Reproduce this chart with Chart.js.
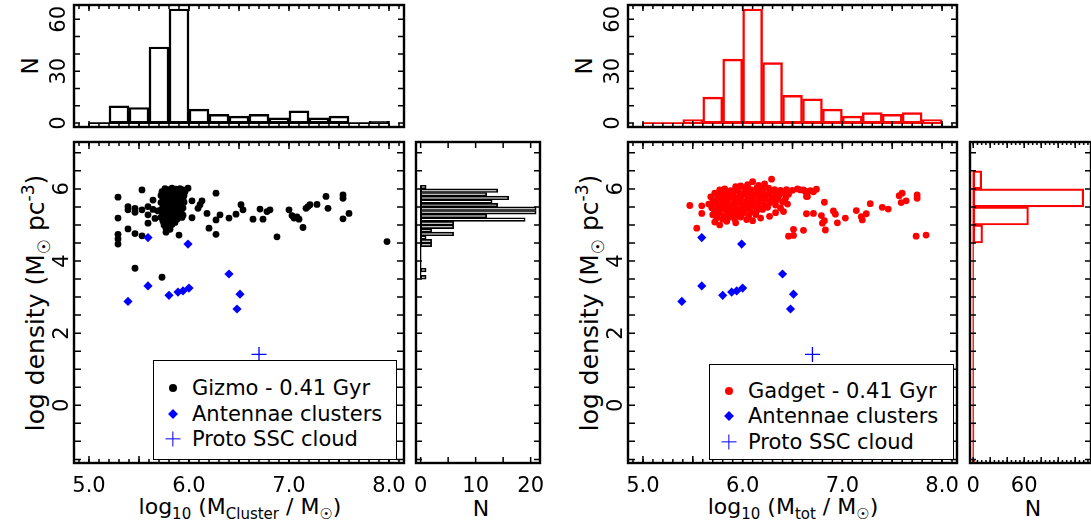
<!DOCTYPE html>
<html>
<head>
<meta charset="utf-8">
<title>Cluster density vs mass</title>
<script src="https://cdn.jsdelivr.net/npm/chart.js@4.4.1/dist/chart.umd.min.js"></script>
<style>
  body { margin: 0; width: 1091px; height: 525px; position: relative; overflow: hidden; background: #fff; font-family: "DejaVu Sans", sans-serif; color: #000; }
  canvas { position: absolute; left: 0; top: 0; }
  .lbl { position: absolute; white-space: nowrap; transform: translate(-50%, -50%); font-size: 22px; }
  .rot { transform: translate(-50%, -50%) rotate(-90deg); }
  .lbl sub, .lbl sup { font-size: 15px; line-height: 0; }
  .big sub, .big sup { font-size: 17px; }
  .legend { position: absolute; border: 1.5px solid #000; background: #fff; box-sizing: border-box; font-size: 21px; }
  .legend .row { position: absolute; left: 38px; transform: translateY(-50%); white-space: nowrap; }
  .mk { position: absolute; transform: translate(-50%, -50%); }
</style>
</head>
<body>

<div class="lbl rot" style="left:30px;top:66px;font-size:23px">N</div>
<div class="lbl rot big" style="left:35px;top:303px;font-size:25px">log density (M<sub>☉</sub> pc<sup>-3</sup>)</div>
<div class="lbl" style="left:240px;top:506px">log<sub>10</sub> (M<sub>Cluster</sub> / M<sub>☉</sub>)</div>
<div class="lbl" style="left:481px;top:508px">N</div>

<div class="lbl rot" style="left:584px;top:66px;font-size:23px">N</div>
<div class="lbl rot big" style="left:589px;top:303px;font-size:25px">log density (M<sub>☉</sub> pc<sup>-3</sup>)</div>
<div class="lbl" style="left:793px;top:506px">log<sub>10</sub> (M<sub>tot</sub> / M<sub>☉</sub>)</div>
<div class="lbl" style="left:1033px;top:508px">N</div>

<script>
// top histograms: log mass bins
const massBinEdges = [5.0, 5.2, 5.4, 5.6, 5.8, 6.0, 6.2, 6.4, 6.6, 6.8, 7.0, 7.2, 7.4, 7.6, 7.8, 8.0];
const gizmoMassCounts = [0, 10, 9, 44, 66, 8, 5, 4, 5, 3, 7, 3, 4, 0, 1];
const gadgetMassCounts = [0, 0, 2, 15, 37, 66, 35, 16, 14, 8, 4, 6, 5, 6, 2];

// side histograms: log density bins
const gizmoDensityEdges = [3.5, 3.6, 3.7, 3.8, 3.9, 4.0, 4.1, 4.2, 4.3, 4.4, 4.5, 4.6, 4.7, 4.8, 4.9, 5.0, 5.1, 5.2, 5.3, 5.4, 5.5, 5.6, 5.7, 5.8, 5.9, 6.0, 6.1];
const gizmoDensityCounts = [1, 0, 1, 0, 0, 0, 0, 0, 0, 2, 2, 1, 6, 2, 6, 6, 19, 12, 21, 21, 14, 13, 16, 12, 14, 1];
const gadgetDensityEdges = [-2.0, -1.5, -1.0, -0.5, 0.0, 0.5, 1.0, 1.5, 2.0, 2.5, 3.0, 3.5, 4.0, 4.5, 5.0, 5.5, 6.0, 6.5];
const gadgetDensityCounts = [2, 0, 1, 0, 0, 0, 0, 0, 0, 0, 0, 0, 0, 11, 65, 130, 10];

// scatter points [log mass, log density]
const gizmoPoints = [
  [5.29,5.77],[5.29,5.19],[5.29,4.74],[5.29,4.61],[5.29,4.47],
  [5.39,5.51],[5.39,5.42],[5.46,5.46],[5.46,5.35],[5.53,5.42],[5.53,5.97],
  [5.39,4.89],[5.46,4.76],[5.53,4.70],[5.59,5.51],[5.59,5.28],[5.59,5.05],
  [5.64,5.69],[5.64,5.43],[5.66,5.18],[5.69,5.39],[5.77,4.80],[5.90,4.72],
  [5.99,6.02],[6.03,5.67],[6.03,5.20],[6.09,5.46],[6.11,5.56],[6.13,5.67],
  [6.18,5.32],[6.27,5.88],[6.27,5.14],[6.31,5.28],[6.20,4.91],[6.27,4.74],
  [6.40,5.19],[6.47,5.30],[6.52,5.56],[6.54,5.42],[6.64,5.16],
  [5.46,3.80],[5.73,3.55],
  [6.71,5.44],[6.74,5.16],[6.78,5.37],[6.81,5.42],[6.88,4.67],[7.00,5.42],
  [7.03,5.26],[7.05,5.19],[7.08,5.22],[7.10,5.16],[7.14,4.93],[7.17,5.46],
  [7.19,5.51],[7.21,5.56],[7.28,5.57],[7.37,5.79],[7.39,5.46],[7.54,5.83],
  [7.54,5.74],[7.54,5.17],[7.60,5.32],[7.98,4.54],
  [5.76,6.01],[5.80,5.98],[5.83,6.02],[5.87,5.99],[5.91,6.01],[5.94,5.97],
  [5.73,5.92],[5.77,5.89],[5.81,5.93],[5.85,5.90],[5.89,5.94],[5.93,5.88],[5.96,5.92],
  [5.72,5.82],[5.75,5.79],[5.79,5.84],[5.83,5.80],[5.87,5.83],[5.91,5.78],[5.95,5.82],
  [5.74,5.71],[5.78,5.74],[5.82,5.69],[5.86,5.73],[5.90,5.70],[5.94,5.74],
  [5.72,5.62],[5.76,5.59],[5.80,5.63],[5.84,5.60],[5.88,5.64],[5.92,5.58],[5.95,5.63],
  [5.74,5.51],[5.78,5.54],[5.82,5.49],[5.86,5.53],[5.90,5.50],[5.94,5.47],
  [5.72,5.42],[5.76,5.39],[5.80,5.44],[5.84,5.40],[5.88,5.43],[5.92,5.38],
  [5.74,5.31],[5.78,5.28],[5.82,5.33],[5.86,5.29],[5.90,5.32],[5.94,5.27],
  [5.72,5.21],[5.76,5.18],[5.80,5.22],[5.84,5.19],[5.88,5.16],[5.93,5.21],
  [5.74,5.10],[5.78,5.08],[5.82,5.12],[5.86,5.07],
  [5.75,5.00],[5.79,4.97],[5.83,5.01],[5.77,4.91],[5.81,4.88]
];
const gadgetPoints = [
  [5.47,5.54],[5.59,5.53],[5.59,5.32],[5.54,4.91],[5.70,5.65],[5.70,5.46],
  [5.77,5.97],[5.77,5.00],[5.93,6.06],[5.93,5.06],[6.10,6.20],[6.29,6.27],[6.22,6.14],
  [6.05,6.12],[6.16,6.10],[5.98,6.08],
  [5.82,6.00],[5.88,5.95],[5.95,6.00],[6.02,6.03],[6.08,5.98],[6.14,6.02],[6.20,5.99],
  [6.26,6.02],[6.32,5.98],[6.38,5.96],[6.44,5.98],[6.50,5.96],[6.55,6.00],[6.58,5.97],[6.63,5.93],
  [5.72,5.88],[5.79,5.90],[5.85,5.87],[5.91,5.91],[5.97,5.89],[6.03,5.92],[6.09,5.88],
  [6.15,5.91],[6.21,5.87],[6.27,5.90],[6.33,5.86],[6.40,5.89],[6.46,5.85],
  [5.68,5.78],[5.75,5.81],[5.81,5.77],[5.87,5.80],[5.93,5.76],[5.99,5.81],[6.05,5.78],
  [6.11,5.82],[6.17,5.77],[6.23,5.80],[6.29,5.76],[6.36,5.79],[6.43,5.74],[6.65,5.79],
  [5.74,5.70],[5.80,5.68],[5.86,5.72],[5.92,5.67],[5.98,5.71],[6.04,5.66],[6.10,5.70],
  [6.16,5.68],[6.22,5.72],[6.28,5.66],[6.34,5.69],[6.40,5.64],
  [5.66,5.58],[5.73,5.61],[5.79,5.57],[5.85,5.60],[5.91,5.56],[5.97,5.62],[6.03,5.58],
  [6.09,5.55],[6.15,5.60],[6.21,5.57],[6.27,5.61],[6.33,5.55],[6.45,5.58],
  [5.69,5.48],[5.76,5.52],[5.82,5.47],[5.88,5.50],[5.94,5.46],[6.00,5.51],[6.06,5.47],
  [6.12,5.52],[6.18,5.45],[6.25,5.49],[6.38,5.47],
  [5.72,5.38],[5.78,5.42],[5.84,5.36],[5.90,5.40],[5.96,5.37],[6.02,5.41],[6.08,5.36],
  [6.14,5.39],[6.20,5.43],[6.33,5.34],[6.41,5.37],
  [5.70,5.28],[5.76,5.31],[5.82,5.26],[5.88,5.30],[5.94,5.27],[6.00,5.32],[6.06,5.25],
  [6.13,5.29],[6.27,5.24],
  [5.74,5.19],[5.80,5.16],[5.86,5.21],[5.92,5.17],[5.98,5.22],[6.04,5.15],[6.18,5.19],
  [5.72,5.08],[5.84,5.10],[6.10,5.12],
  [6.51,4.88],[6.46,4.69],[6.51,4.71],[6.61,4.85],
  [6.61,5.97],[6.64,5.92],[6.68,5.95],[6.71,5.92],[6.74,5.99],[6.64,5.79],[6.82,5.63],
  [6.64,5.31],[6.71,5.32],[6.79,5.26],[6.82,5.12],[6.80,5.05],[6.83,4.86],
  [6.91,5.39],[6.93,5.30],[6.95,5.06],[7.03,5.19],[7.14,5.40],[7.19,5.23],[7.20,5.14],
  [7.24,5.31],[7.28,5.59],[7.40,5.49],[7.46,5.44],[7.57,5.81],[7.60,5.88],[7.59,5.62],
  [7.64,5.67],[7.75,5.83],[7.75,5.74],[7.74,4.69],[7.84,4.72],
  [6.96,-1.66],[7.38,-1.68]
];
const antennaeLogM = [5.59, 5.99, 6.40, 5.59, 5.39, 5.80, 5.89, 5.94, 6.00, 6.51, 6.48];
const antennaeLogRho = [4.65, 4.47, 3.64, 3.31, 2.88, 3.05, 3.14, 3.17, 3.25, 3.08, 2.67];
const protoLogM = [6.70];
const protoLogRho = [1.41];

// tick labels
const massTicks = [5, 6, 7, 8];
const densityTicks = [0, 2, 4, 6];
const countTicks = [0, 30, 60];
const gizmoNTicks = [0, 10, 20];
const gadgetNTicks = [0, 60];

const W = 1091, H = 525;
Chart.defaults.font.family = '"DejaVu Sans", sans-serif';
Chart.defaults.font.size = 21;
Chart.defaults.color = '#000';
Chart.defaults.animation = false;

// frame with inward ticks on all four sides
const frameTicks = {
  id: 'frameTicks',
  afterDatasetsDraw(chart, args, opts) {
    const { ctx, chartArea: a } = chart;
    ctx.save();
    ctx.strokeStyle = '#000';
    ctx.lineWidth = 1.5;
    const marks = (scale, specs, horiz) => {
      specs.forEach(([step, len]) => {
        const i0 = Math.ceil(scale.min / step - 1e-6), i1 = Math.floor(scale.max / step + 1e-6);
        for (let i = i0; i <= i1; i++) {
          const p = scale.getPixelForValue(i * step);
          ctx.beginPath();
          if (horiz) {
            ctx.moveTo(p, a.bottom); ctx.lineTo(p, a.bottom - len);
            ctx.moveTo(p, a.top); ctx.lineTo(p, a.top + len);
          } else {
            ctx.moveTo(a.left, p); ctx.lineTo(a.left + len, p);
            ctx.moveTo(a.right, p); ctx.lineTo(a.right - len, p);
          }
          ctx.stroke();
        }
      });
    };
    marks(chart.scales.x, opts.x || [], true);
    marks(chart.scales.y, opts.y || [], false);
    ctx.lineWidth = 2.4;
    ctx.strokeRect(a.left, a.top, a.right - a.left, a.bottom - a.top);
    ctx.restore();
  }
};
Chart.register(frameTicks);

function axis(o) {
  return {
    type: 'linear', min: o.min, max: o.max, offset: false,
    grid: { display: false, drawTicks: false }, border: { display: false },
    ticks: {
      display: !!o.ticks, padding: o.pad || 0, autoSkip: false,
      minRotation: o.rot ? 90 : 0, maxRotation: o.rot ? 90 : 0,
      crossAlign: o.rot ? 'center' : 'near',
      callback: o.fmt || (v => String(v))
    },
    afterBuildTicks: s => { if (o.ticks) s.ticks = o.ticks.map(v => ({ value: v })); },
    afterFit: s => {
      if (o.horiz) s.height = o.size; else s.width = o.size;
      s.paddingLeft = s.paddingRight = s.paddingTop = s.paddingBottom = 0;
    }
  };
}

function makeChart(area, yw, xh, config) {
  const c = document.createElement('canvas');
  c.width = W; c.height = H;
  document.body.appendChild(c);
  config.options.responsive = false;
  config.options.devicePixelRatio = 1;
  config.options.layout = { padding: { left: area[0] - yw, top: area[1], right: W - area[2], bottom: H - area[3] - xh } };
  config.options.plugins = Object.assign({ legend: { display: false }, tooltip: { enabled: false } }, config.options.plugins);
  return new Chart(c, config);
}

function massHist(area, counts, color) {
  const bars = counts.map((n, i) => ({ x: (massBinEdges[i] + massBinEdges[i + 1]) / 2, y: n }));
  const last = massBinEdges.length - 1;
  makeChart(area, 34, 0, {
    type: 'bar',
    data: { datasets: [
      { data: bars, borderColor: color, backgroundColor: 'rgba(0,0,0,0)', borderWidth: 1.8,
        borderSkipped: false, barPercentage: 1, categoryPercentage: 1 },
      { type: 'line', data: [{ x: massBinEdges[0], y: 0 }, { x: massBinEdges[last], y: 0 }],
        borderColor: color, borderWidth: 1.8, pointRadius: 0 }
    ] },
    options: {
      scales: {
        x: axis({ min: 4.85, max: 8.15, horiz: true, size: 0 }),
        y: axis({ min: -2.3, max: 68.3, ticks: countTicks, rot: true, pad: 1.5, size: 34 })
      },
      plugins: { frameTicks: { x: [[0.1, 4], [0.5, 6]], y: [[10, 6]] } }
    }
  });
}

function scatterPanel(area, points, color) {
  makeChart(area, 34, 40, {
    type: 'scatter',
    data: { datasets: [
      { data: antennaeLogM.map((x, i) => ({ x, y: antennaeLogRho[i] })), pointStyle: 'rectRot',
        pointRadius: 4.6, backgroundColor: '#0000ff', borderWidth: 0 },
      { data: protoLogM.map((x, i) => ({ x, y: protoLogRho[i] })), pointStyle: 'cross',
        pointRadius: 7.5, borderColor: '#0000ff', borderWidth: 1.3 },
      { data: points.map(([x, y]) => ({ x, y })), pointStyle: 'circle',
        pointRadius: 3.4, backgroundColor: color, borderWidth: 0 }
    ] },
    options: {
      scales: {
        x: axis({ min: 4.85, max: 8.15, ticks: massTicks, fmt: v => v.toFixed(1), pad: 11, horiz: true, size: 40 }),
        y: axis({ min: -1.6, max: 7.3, ticks: densityTicks, rot: true, pad: 5, size: 34 })
      },
      plugins: { frameTicks: { x: [[0.1, 4], [0.5, 7]], y: [[0.5, 7]] } }
    }
  });
}

function densityHist(area, edges, counts, color, xmax, nTicks, xSpecs, bw) {
  const bars = counts.map((n, i) => ({ x: n, y: (edges[i] + edges[i + 1]) / 2 }));
  const last = edges.length - 1;
  const xmin = -xmax * 0.025 - 0.3;
  makeChart(area, 0, 40, {
    type: 'bar',
    data: { datasets: [
      { data: bars, borderColor: color, backgroundColor: 'rgba(0,0,0,0)', borderWidth: bw,
        borderSkipped: false, barPercentage: 1, categoryPercentage: 1 },
      { type: 'line', data: [{ x: 0, y: edges[0] }, { x: 0, y: edges[last] }],
        borderColor: color, borderWidth: 1.3, pointRadius: 0 }
    ] },
    options: {
      indexAxis: 'y',
      scales: {
        x: axis({ min: xmin, max: xmax, ticks: nTicks, pad: 11, horiz: true, size: 40 }),
        y: axis({ min: -1.6, max: 7.3, size: 0 })
      },
      plugins: { frameTicks: { x: xSpecs, y: [[0.5, 6]] } }
    }
  });
}

massHist([74, 5, 404, 127], gizmoMassCounts, '#000');
scatterPanel([74, 142, 404, 463], gizmoPoints, '#000');
densityHist([416, 142, 540, 463], gizmoDensityEdges, gizmoDensityCounts, '#000', 21.7, gizmoNTicks, [[5, 6]], 1);

massHist([628, 5, 957, 127], gadgetMassCounts, '#ff0000');
scatterPanel([628, 142, 957, 463], gadgetPoints, '#ff0000');
densityHist([970, 142, 1094, 463], gadgetDensityEdges, gadgetDensityCounts, '#ff0000', 138.6, gadgetNTicks, [[5, 3], [20, 6]], 1.5);
</script>

<div class="legend" style="left:153px;top:360px;width:244px;height:100px">
  <span class="mk" style="left:19px;top:27px;width:8px;height:8px;border-radius:50%;background:#000"></span>
  <div class="row" style="top:27px">Gizmo - 0.41 Gyr</div>
  <span class="mk" style="left:19px;top:53px;width:7px;height:7px;background:#0000ff;transform:translate(-50%,-50%) rotate(45deg)"></span>
  <div class="row" style="top:53px">Antennae clusters</div>
  <span class="mk" style="left:19px;top:78px;width:15px;height:1.3px;background:#0000ff"></span>
  <span class="mk" style="left:19px;top:78px;width:1.3px;height:15px;background:#0000ff"></span>
  <div class="row" style="top:78px">Proto SSC cloud</div>
</div>

<div class="legend" style="left:709px;top:364px;width:245px;height:96px">
  <span class="mk" style="left:19px;top:26px;width:8px;height:8px;border-radius:50%;background:#ff0000"></span>
  <div class="row" style="top:26px">Gadget - 0.41 Gyr</div>
  <span class="mk" style="left:19px;top:51px;width:7px;height:7px;background:#0000ff;transform:translate(-50%,-50%) rotate(45deg)"></span>
  <div class="row" style="top:51px">Antennae clusters</div>
  <span class="mk" style="left:19px;top:77px;width:15px;height:1.3px;background:#0000ff"></span>
  <span class="mk" style="left:19px;top:77px;width:1.3px;height:15px;background:#0000ff"></span>
  <div class="row" style="top:77px">Proto SSC cloud</div>
</div>

</body>
</html>
